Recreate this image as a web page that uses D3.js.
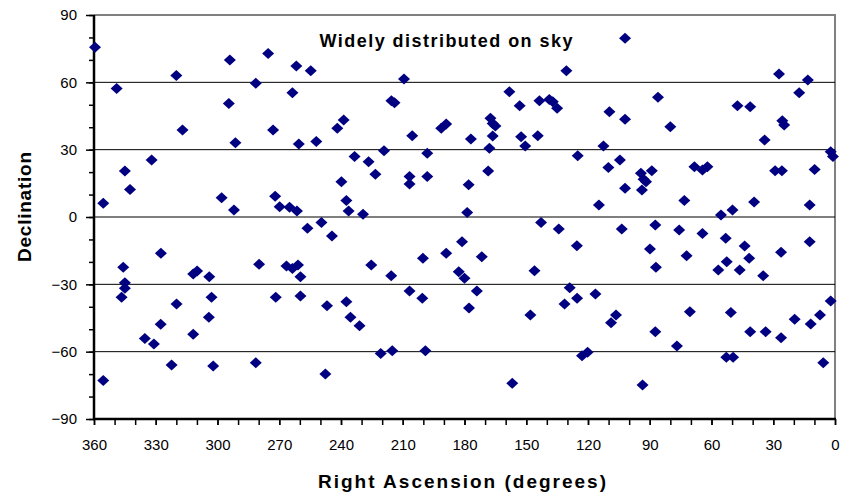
<!DOCTYPE html>
<html>
<head>
<meta charset="utf-8">
<script src="https://cdn.jsdelivr.net/npm/d3@7"></script>
<style>
  body { margin: 0; background: #fff; }
  svg { display: block; font-family: "Liberation Sans", Arial, sans-serif; }
</style>
</head>
<body>
<div id="chart"></div>
<script>
// Right ascension (deg) and declination (deg) of each source
const ra = [359.5, 349, 320, 294, 275.4, 281.4, 294.5, 317, 273, 291.3, 332, 345, 342.5, 355.5, 298, 292, 272, 269.8, 265, 261.4,
  261.7, 254.7, 209.4, 263.6, 215.5, 214, 238.7, 241.8, 260.5, 252, 205.4, 191.3, 188.9, 176.9, 233.4, 226.6, 219.1, 198.1, 223.3, 239.8,
  206.7, 206.7, 198.1, 237.4, 236.3, 229.3, 249.5, 178, 178.7, 102, 130.5, 158.2, 153.2, 143.6, 138.8, 137.1, 135, 86, 109.6, 102,
  167.4, 166.3, 165, 166.3, 152.5, 150.5, 144.4, 167.9, 125, 112.5, 110.1, 104.5, 168.5, 94.3, 93, 91.8, 93.8, 89, 102, 114.7,
  142.8, 27.2, 13.2, 17.4, 47.4, 41.2, 80, 25.6, 24.7, 34.2, 2.1, 1, 68.3, 64.4, 62, 29.1, 25.8, 9.9, 73.2, 55.4,
  49.8, 39.3, 12.3, 327.5, 345.8, 279.8, 311.8, 309.9, 304, 345, 345, 346.6, 302.9, 271.7, 319.9, 327.6, 304.2, 335.3, 330.9, 311.8,
  322.3, 302.1, 281.4, 355.5, 256.3, 244.4, 181.2, 188.9, 200.2, 225.3, 215.6, 266.5, 263.6, 260.9, 259.7, 182.8, 180, 259.7, 206.7, 200.5,
  177.8, 246.8, 237.4, 235.4, 231, 220.7, 215.1, 199, 247.6, 134.2, 103.6, 87.3, 171.6, 125.4, 89.9, 87, 146, 174, 128.9, 131.4,
  125.3, 116.4, 148, 108.8, 106.4, 87.3, 122.9, 120.2, 156.8, 93.5, 75.7, 64.4, 53.1, 43.9, 12.3, 26.2, 72.1, 41.7, 52.6, 56.7,
  46.3, 34.9, 2.1, 70.5, 50.6, 7.3, 19.6, 11.8, 41.2, 33.7, 26.2, 76.8, 52.8, 49.5, 5.7];
const dec = [75.6, 57.3, 63.1, 70, 72.9, 59.6, 50.6, 38.8, 38.8, 33.1, 25.4, 20.5, 12.3, 6.1, 8.6, 3.1, 9.3, 4.6, 4.3, 2.7,
  67.3, 65.2, 61.5, 55.4, 51.8, 50.9, 43.2, 39.5, 32.5, 33.6, 36.2, 39.5, 41.4, 34.8, 26.9, 24.6, 29.5, 28.4, 19.1, 15.7,
  18, 14.7, 18, 7.3, 2.7, 1.2, -2.4, 14.4, 2, 79.6, 65.2, 55.8, 49.6, 51.8, 52.4, 51.4, 48.4, 53.3, 46.9, 43.5,
  44, 41.7, 40.5, 36.1, 35.8, 31.6, 36.2, 30.6, 27.3, 31.6, 22.1, 25.4, 20.5, 19.5, 16.8, 15.7, 12, 20.6, 12.8, 5.3,
  -2.4, 63.7, 61, 55.4, 49.6, 49.1, 40.2, 42.9, 41, 34.3, 29.1, 26.9, 22.4, 20.9, 22.4, 20.6, 20.6, 21.2, 7.3, 0.9,
  3.1, 6.7, 5.3, -16.2, -22.4, -21.1, -25.4, -24.1, -26.6, -29.3, -31.8, -35.8, -35.8, -35.8, -38.8, -47.8, -44.7, -54.1, -56.6, -52.2,
  -65.9, -66.4, -64.9, -72.8, -5, -8.5, -11, -16.2, -18.4, -21.4, -26.2, -21.8, -22.9, -21.4, -26.6, -24.4, -27.3, -35.2, -33, -36.2,
  -40.5, -39.5, -37.8, -44.7, -48.5, -60.8, -59.6, -59.6, -70, -5.4, -5.4, -3.6, -17.7, -12.8, -14.3, -22.4, -23.9, -33, -31.5, -38.8,
  -36.2, -34.3, -43.7, -47.1, -43.7, -51.1, -61.8, -60.3, -74.1, -74.9, -5.8, -7.3, -9.5, -12.9, -11, -15.7, -17.3, -18.4, -19.9, -23.6,
  -23.6, -26.2, -37.4, -42.2, -42.6, -43.7, -45.6, -47.7, -51.1, -51.1, -53.8, -57.5, -62.5, -62.5, -64.9];

const xMajor = [360, 330, 300, 270, 240, 210, 180, 150, 120, 90, 60, 30, 0];
const yMajor = [-90, -60, -30, 0, 30, 60, 90];
const gridLines = [-60, -30, 0, 30, 60];

// Chart dimensions and plot area edges
const width = 846;
const height = 492;
const plotLeft = 94, plotRight = 835, plotTop = 15, plotBottom = 419;

const points = ra.map((r, i) => ({ ra: r, dec: dec[i] }));

const x = d3.scaleLinear().domain([360, 0]).range([plotLeft, plotRight]);
const y = d3.scaleLinear().domain([-90, 90]).range([plotBottom, plotTop]);

const svg = d3.create("svg")
    .attr("width", width)
    .attr("height", height);
document.getElementById("chart").append(svg.node());

// Plot area border (top and right, grey like Excel)
svg.append("path")
    .attr("d", `M${plotLeft},${plotTop}H${plotRight}V${plotBottom}`)
    .attr("fill", "none")
    .attr("stroke", "#808080")
    .attr("stroke-width", 2);

// Horizontal gridlines
svg.append("g")
    .selectAll("line")
    .data(gridLines)
    .join("line")
    .attr("x1", plotLeft)
    .attr("x2", plotRight)
    .attr("y1", d => y(d))
    .attr("y2", d => y(d))
    .attr("stroke", "#000")
    .attr("stroke-width", 1);

// Minor ticks every 10 degrees
const minorX = d3.range(0, 361, 10);
const minorY = d3.range(-90, 91, 10);

svg.append("g")
    .attr("transform", `translate(0,${plotBottom})`)
    .call(d3.axisBottom(x).tickValues(minorX).tickSize(6).tickFormat(""))
    .call(g => g.select(".domain").remove())
    .selectAll("line").attr("stroke", "#000").attr("stroke-width", 1.5);

svg.append("g")
    .attr("transform", `translate(${plotLeft},0)`)
    .call(d3.axisLeft(y).tickValues(minorY).tickSize(5).tickFormat(""))
    .call(g => g.select(".domain").remove())
    .selectAll("line").attr("stroke", "#000").attr("stroke-width", 1.5);

// Major ticks and labels
const gx = svg.append("g")
    .attr("transform", `translate(0,${plotBottom})`)
    .call(d3.axisBottom(x).tickValues(xMajor).tickSize(6).tickPadding(14).tickFormat(d3.format("d")));
gx.select(".domain").remove();
gx.selectAll("line").attr("stroke", "#000").attr("stroke-width", 1.5);
gx.selectAll("text")
    .attr("font-size", 15)
    .attr("font-family", "Liberation Sans, Arial, sans-serif")
    .attr("fill", "#000");

const gy = svg.append("g")
    .attr("transform", `translate(${plotLeft},0)`)
    .call(d3.axisLeft(y).tickValues(yMajor).tickSize(8).tickPadding(9).tickFormat(d3.format("d")));
gy.select(".domain").remove();
gy.selectAll("line").attr("stroke", "#000").attr("stroke-width", 1.5);
gy.selectAll("text")
    .attr("font-size", 15)
    .attr("font-family", "Liberation Sans, Arial, sans-serif")
    .attr("fill", "#000");

// Axis lines
svg.append("line")
    .attr("x1", plotLeft).attr("x2", plotLeft)
    .attr("y1", plotTop).attr("y2", plotBottom + 1)
    .attr("stroke", "#000").attr("stroke-width", 2.5);
svg.append("line")
    .attr("x1", plotLeft - 1).attr("x2", plotRight + 1)
    .attr("y1", plotBottom).attr("y2", plotBottom)
    .attr("stroke", "#000").attr("stroke-width", 2.5);

// Data points as diamonds
svg.append("g")
    .selectAll("path")
    .data(points)
    .join("path")
    .attr("transform", d => `translate(${x(d.ra)},${y(d.dec)})`)
    .attr("d", "M0,-5.5L6,0L0,5.5L-6,0Z")
    .attr("fill", "#000080");

// Title
svg.append("text")
    .attr("x", 446)
    .attr("y", 47)
    .attr("text-anchor", "middle")
    .attr("font-size", 18)
    .attr("font-weight", "bold")
    .attr("textLength", 253)
    .attr("lengthAdjust", "spacing")
    .text("Widely distributed on sky");

// Axis titles
svg.append("text")
    .attr("x", 462)
    .attr("y", 488)
    .attr("text-anchor", "middle")
    .attr("font-size", 19)
    .attr("font-weight", "bold")
    .attr("textLength", 288)
    .attr("lengthAdjust", "spacing")
    .text("Right Ascension (degrees)");

svg.append("text")
    .attr("transform", "rotate(-90)")
    .attr("x", -207)
    .attr("y", 31)
    .attr("text-anchor", "middle")
    .attr("font-size", 19)
    .attr("font-weight", "bold")
    .attr("textLength", 110)
    .attr("lengthAdjust", "spacing")
    .text("Declination");
</script>
</body>
</html>
